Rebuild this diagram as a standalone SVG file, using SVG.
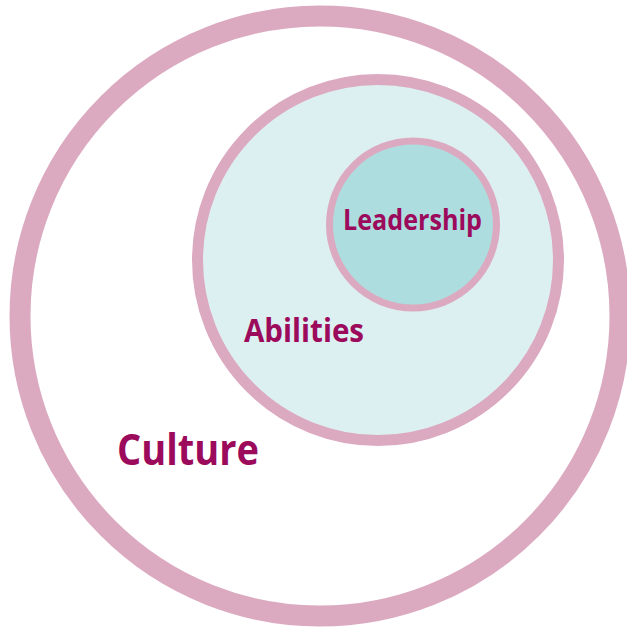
<svg xmlns="http://www.w3.org/2000/svg" width="627" height="630" viewBox="0 0 627 630">
<style>
.ring{stroke:#DCAAC0}
.lbl{font-family:"Open Sans","Noto Sans","Liberation Sans",sans-serif;font-weight:700;fill:#9C0A5C}
</style>
<rect width="627" height="630" fill="#FFFFFF"/>
<g id="culture">
<circle class="ring" cx="320" cy="316" r="300" fill="#FFFFFF" stroke-width="21"/>
<text class="lbl" x="117" y="465" font-size="43" textLength="142" lengthAdjust="spacingAndGlyphs">Culture</text>
</g>
<g id="abilities">
<circle class="ring" cx="378" cy="260" r="180.5" fill="#DDF0F1" stroke-width="11"/>
<text class="lbl" x="244" y="342" font-size="32" textLength="120" lengthAdjust="spacingAndGlyphs">Abilities</text>
</g>
<g id="leadership">
<circle class="ring" cx="413" cy="224.5" r="83.5" fill="#AEDDDF" stroke-width="7"/>
<text class="lbl" x="343" y="230" font-size="28" textLength="139" lengthAdjust="spacingAndGlyphs">Leadership</text>
</g>
<g id="connectors"/>
</svg>
